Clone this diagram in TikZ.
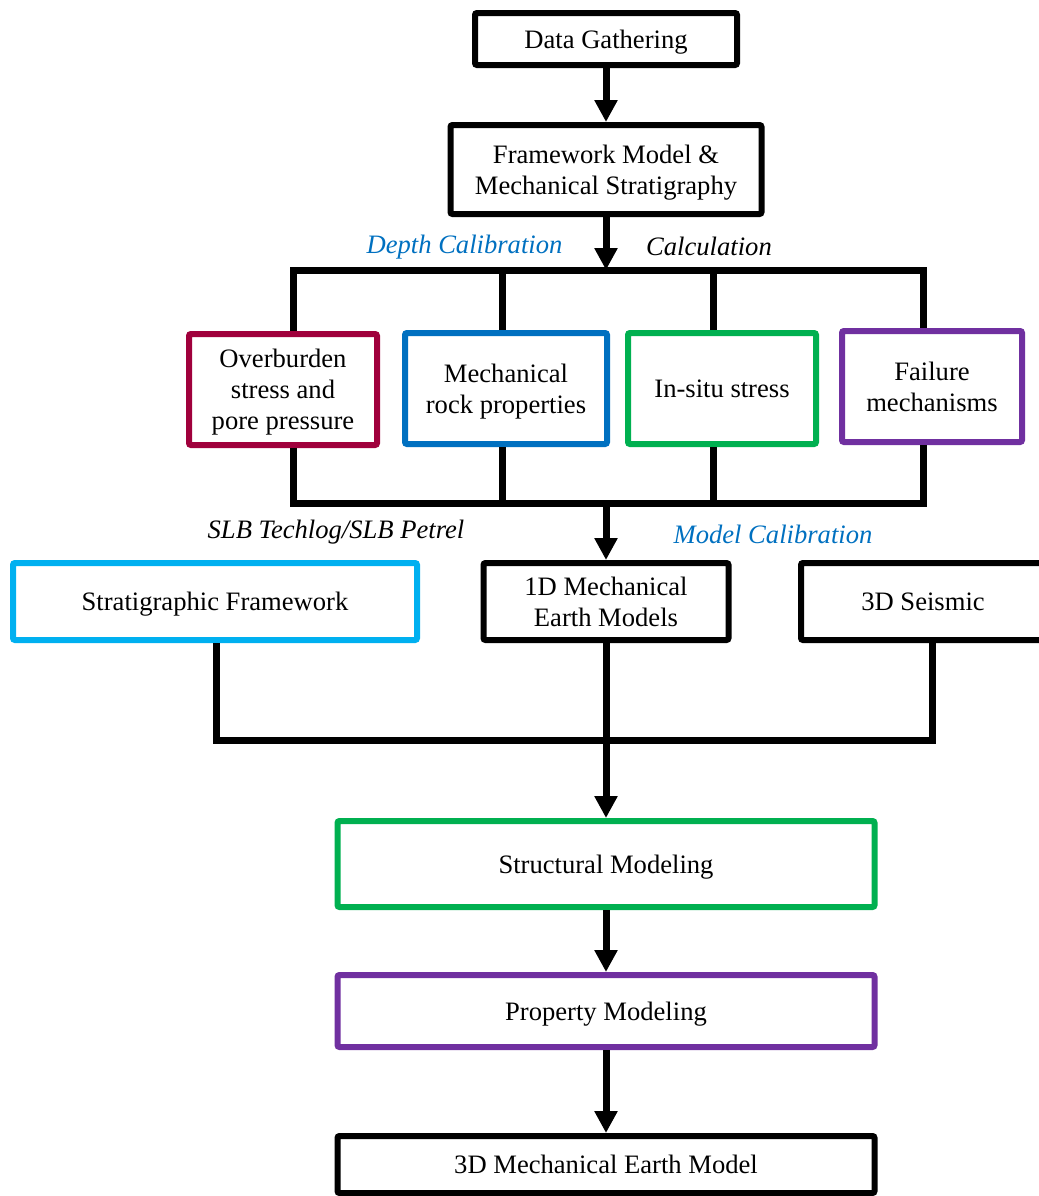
\documentclass[tikz,border=0pt]{standalone}
\usepackage{fontspec}
\setmainfont{Liberation Serif}
\usetikzlibrary{arrows.meta}
\definecolor{crimson}{RGB}{160,0,60}
\definecolor{mblue}{RGB}{0,112,192}
\definecolor{mgreen}{RGB}{0,176,80}
\definecolor{mpurple}{RGB}{112,48,160}
\definecolor{lblue}{RGB}{0,176,240}
\begin{document}
\begin{tikzpicture}[x=0.5pt,y=-0.5pt,
	box/.style={draw, line width=3pt, rounded corners=1pt, align=center, inner sep=0pt,
		text depth=0pt, font=\fontsize{13.3}{15.5}\selectfont},
	conn/.style={line width=3.5pt},
	arr/.style={conn, -{Triangle[width=11pt,length=11pt]}},
	lbl/.style={anchor=base, font=\fontsize{13.3}{15.5}\selectfont\itshape}]
	\clip (0,0) rectangle (1039,1196);
	\node[box, minimum width=131pt, minimum height=26pt] (gather) at (606,39) {Data Gathering};
	\node[box, minimum width=155.5pt, minimum height=44.5pt] (frame) at (606,169.5) {Framework Model \&\\Mechanical Stratigraphy};
	\node[box, draw=crimson, minimum width=94pt, minimum height=55.5pt] (over) at (283,389.5) {Overburden\\stress and\\pore pressure};
	\node[box, draw=mblue, minimum width=101pt, minimum height=55.5pt] (mech) at (506,388.5) {Mechanical\\rock properties};
	\node[box, draw=mgreen, minimum width=94pt, minimum height=55.5pt] (insitu) at (722,388.5) {In-situ stress};
	\node[box, draw=mpurple, minimum width=90pt, minimum height=55.5pt] (fail) at (932,386.5) {Failure\\mechanisms};
	\node[box, draw=lblue, minimum width=202pt, minimum height=38.5pt] (strat) at (215,601.5) {Stratigraphic Framework};
	\node[box, minimum width=122.5pt, minimum height=38.5pt] (oned) at (606,601.5) {1D Mechanical\\Earth Models};
	\node[box, minimum width=122pt, minimum height=38.5pt] (seis) at (923,601.5) {3D Seismic};
	\node[box, draw=mgreen, minimum width=268.5pt, minimum height=43pt] (struct) at (606,864) {Structural Modeling};
	\node[box, draw=mpurple, minimum width=268.5pt, minimum height=36pt] (prop) at (606,1011) {Property Modeling};
	\node[box, minimum width=268.5pt, minimum height=28.5pt] (mem) at (606,1164.5) {3D Mechanical Earth Model};
	\coordinate (topA) at (293,270);
	\coordinate (topB) at (502,270);
	\coordinate (topC) at (713,270);
	\coordinate (topD) at (923,270);
	\coordinate (topM) at (606,270);
	\coordinate (botA) at (293,503);
	\coordinate (botB) at (502,503);
	\coordinate (botC) at (713,503);
	\coordinate (botD) at (923,503);
	\coordinate (botM) at (606,503);
	\coordinate (lowA) at (216,740);
	\coordinate (lowC) at (932,740);
	\draw[arr] (gather) -- (frame);
	\draw[arr] (frame) -- (topM);
	\draw[conn] (over.north -| topA) -- (topA) -- (topD) -- (fail.north -| topD);
	\draw[conn] (mech.north -| topB) -- (topB);
	\draw[conn] (insitu.north -| topC) -- (topC);
	\draw[conn] (over.south -| botA) -- (botA) -- (botD) -- (fail.south -| botD);
	\draw[conn] (mech.south -| botB) -- (botB);
	\draw[conn] (insitu.south -| botC) -- (botC);
	\draw[arr] (botM) -- (oned);
	\draw[conn] (strat.south -| lowA) -- (lowA) -- (lowC) -- (seis.south -| lowC);
	\draw[arr] (oned) -- (struct);
	\draw[arr] (struct) -- (prop);
	\draw[arr] (prop) -- (mem);
	\node[lbl, text=mblue] (depth) at (464.5,253) {Depth Calibration};
	\node[lbl] (calc) at (709,255) {Calculation};
	\node[lbl] (slb) at (336,538) {SLB Techlog/SLB Petrel};
	\node[lbl, text=mblue] (modcal) at (773,543) {Model Calibration};
\end{tikzpicture}
\end{document}
